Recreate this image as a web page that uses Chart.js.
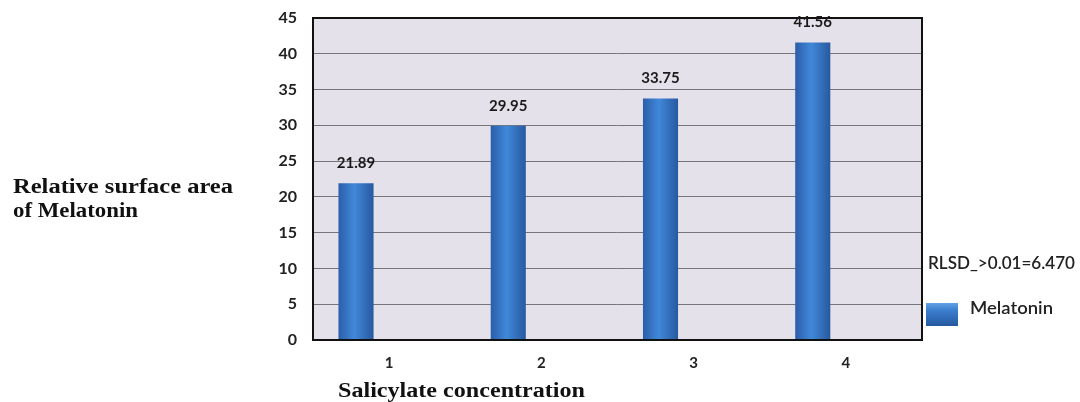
<!DOCTYPE html>
<html>
<head>
<meta charset="utf-8">
<script src="https://cdn.jsdelivr.net/npm/chart.js@4"></script>
<style>
  html, body { margin: 0; padding: 0; background: #fff; }
  #wrap { width: 1080px; height: 402px; }
</style>
</head>
<body>
<div id="wrap"><canvas id="melChart" width="1080" height="402"></canvas></div>
<script>
const categories = ['1', '2', '3', '4'];
const melatonin = [21.89, 29.95, 33.75, 41.56];
const yTicks = [0, 5, 10, 15, 20, 25, 30, 35, 40, 45];
const yTitle = ['Relative surface area', 'of Melatonin'];
const xTitle = 'Salicylate concentration';
const seriesName = 'Melatonin';
const lsdNote = 'RLSD_>0.01=6.470';

const sansFont = 'Lato, "Open Sans", sans-serif';
const serifFont = '"Liberation Serif", "DejaVu Serif", serif';

// draw text stretched horizontally to a given width (the original uses wider fonts)
function fitText(ctx, text, x, y, width) {
    const w = ctx.measureText(text).width;
    ctx.save();
    ctx.translate(x, y);
    ctx.scale(width / w, 1);
    ctx.fillText(text, 0, 0);
    ctx.restore();
}

const framePlugin = {
    id: 'frame',
    beforeDraw(chart) {
        const { ctx, chartArea: a } = chart;
        ctx.save();
        ctx.fillStyle = '#e5e1eb';
        ctx.fillRect(a.left, a.top, a.right - a.left, a.bottom - a.top);
        ctx.restore();
    },
    afterDraw(chart) {
        const { ctx, chartArea: a } = chart;
        ctx.save();
        ctx.strokeStyle = '#111';
        ctx.lineWidth = 2;
        ctx.strokeRect(a.left, a.top, a.right - a.left, a.bottom - a.top);

        // value labels above the bars
        const meta = chart.getDatasetMeta(0);
        ctx.fillStyle = '#1a1a1a';
        ctx.font = 'bold 15px ' + sansFont;
        ctx.textAlign = 'center';
        ctx.textBaseline = 'middle';
        meta.data.forEach((bar, i) => {
            ctx.fillText(melatonin[i].toFixed(2), bar.x, bar.y - 20);
        });

        // axis titles
        ctx.font = 'bold 20px ' + serifFont;
        ctx.textAlign = 'left';
        ctx.fillStyle = '#111';
        fitText(ctx, yTitle[0], 13, 188, 220);
        fitText(ctx, yTitle[1], 13, 212, 125);
        fitText(ctx, xTitle, 338, 392, 247);

        // legend and note
        ctx.font = '600 17px ' + sansFont;
        ctx.fillStyle = '#222';
        fitText(ctx, lsdNote, 928, 264, 147);
        const g = ctx.createLinearGradient(0, 303, 0, 326);
        g.addColorStop(0, '#62a2e6');
        g.addColorStop(0.3, '#3d80d0');
        g.addColorStop(1, '#24589e');
        ctx.fillStyle = g;
        ctx.fillRect(926, 303, 32, 23);
        ctx.fillStyle = '#222';
        fitText(ctx, seriesName, 970, 309, 83);
        ctx.restore();
    }
};

const chart = new Chart(document.getElementById('melChart'), {
    type: 'bar',
    data: {
        labels: categories,
        datasets: [
            {
                label: seriesName,
                data: melatonin,
                backgroundColor: '#3a7bd0',
                borderWidth: 0,
                barPercentage: 0.53,
                categoryPercentage: 0.87
            },
            {
                label: '',
                data: categories.map(() => null),
                backgroundColor: 'rgba(0,0,0,0)',
                barPercentage: 0.53,
                categoryPercentage: 0.87
            }
        ]
    },
    options: {
        responsive: false,
        animation: false,
        layout: { padding: { left: 250, right: 158, top: 18, bottom: 0 } },
        plugins: {
            legend: { display: false },
            tooltip: { enabled: false }
        },
        scales: {
            x: {
                grid: { display: false, drawTicks: false },
                border: { display: false },
                ticks: {
                    color: '#222',
                    font: { family: sansFont, size: 15, weight: 'bold' },
                    padding: 14
                },
                afterFit(scale) {
                    scale.height = 62;
                    scale.paddingLeft = 0;
                    scale.paddingRight = 0;
                }
            },
            y: {
                min: 0,
                max: 45,
                afterBuildTicks(scale) { scale.ticks = yTicks.map(v => ({ value: v })); },
                grid: { color: '#77757a', lineWidth: 1, drawTicks: false },
                border: { display: false },
                ticks: {
                    color: '#222',
                    font: { family: sansFont, size: 16, weight: 'bold' },
                    padding: 16
                },
                afterFit(scale) {
                    scale.width = 63;
                    scale.paddingTop = 0;
                    scale.paddingBottom = 0;
                }
            }
        }
    },
    plugins: [framePlugin]
});

// horizontal shading across each bar, once the bar positions are known
chart.data.datasets[0].backgroundColor = chart.getDatasetMeta(0).data.map(bar => {
    const left = bar.x - bar.width / 2;
    const g = chart.ctx.createLinearGradient(left, 0, left + bar.width, 0);
    g.addColorStop(0, '#2a5ea8');
    g.addColorStop(0.45, '#4188da');
    g.addColorStop(1, '#28599f');
    return g;
});
chart.update();
</script>
</body>
</html>
